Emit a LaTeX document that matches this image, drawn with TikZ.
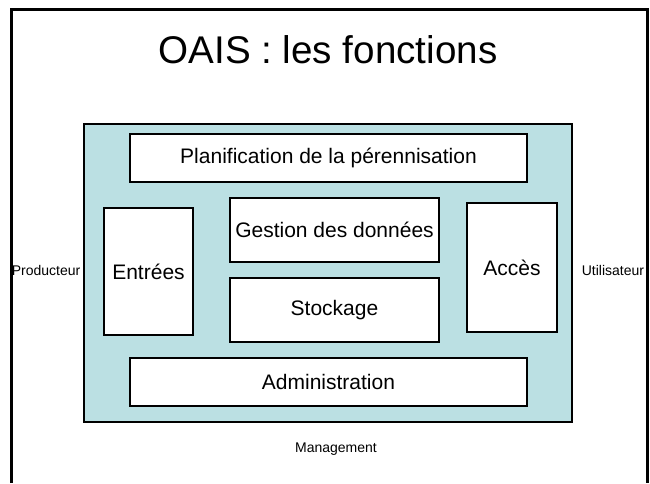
\documentclass[tikz,border=0pt]{standalone}
\usepackage{fontspec}
\setmainfont{Liberation Sans}
\definecolor{fondoais}{HTML}{BBE0E3}
\tikzset{
  fonction/.style={draw, line width=1.5pt, fill=white, inner sep=0pt,
    font=\fontsize{21}{25}\selectfont},
  acteur/.style={inner sep=0pt, font=\fontsize{14}{17}\selectfont}
}
\begin{document}
\begin{tikzpicture}[x=1pt, y=-1pt]

  \useasboundingbox (0,0) rectangle (650,483);

  % Cadre
  \draw[line width=3pt] (11,483) -- (11,9.5) -- (647,9.5) -- (647,483);

  % Titre
  \node[inner sep=0pt, anchor=base, font=\fontsize{38.6}{46}\selectfont]
    (titre) at (328,63) {OAIS : les fonctions};

  % Fond
  \node[draw, line width=1.5pt, fill=fondoais, minimum width=488pt,
    minimum height=298pt] (fond) at (328,273) {};

  % Fonctions
  \node[fonction, minimum width=397pt, minimum height=48pt] (planif) at (328.5,158)
    {Planification de la pérennisation};
  \node[fonction, minimum width=89pt, minimum height=127pt] (entrees) at (148.5,271.5)
    {Entrées};
  \node[fonction, minimum width=209pt, minimum height=64pt] (gestion) at (334.5,230)
    {Gestion des données};
  \node[fonction, minimum width=209pt, minimum height=64pt] (stockage) at (334.5,310)
    {Stockage};
  \node[fonction, minimum width=90pt, minimum height=129pt] (acces) at (512,267.5)
    {Accès};
  \node[fonction, minimum width=397pt, minimum height=48pt] (admin) at (328.5,382)
    {Administration};

  % Acteurs
  \node[acteur] (producteur) at (46,270) {Producteur};
  \node[acteur] (utilisateur) at (613,270) {Utilisateur};
  \node[acteur] (management) at (336,449) {Management};

\end{tikzpicture}
\end{document}
